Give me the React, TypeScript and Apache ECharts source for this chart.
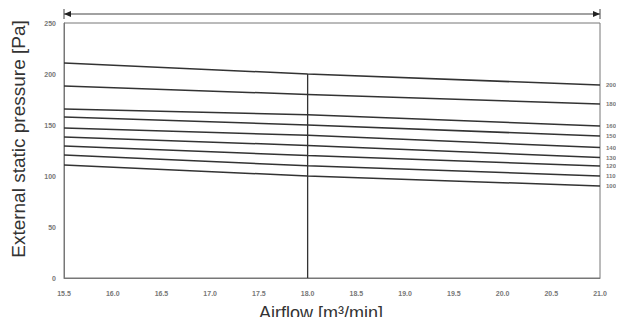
import React, { useEffect, useRef } from "react";
import * as echarts from "echarts";

const airflow = [15.5, 18.0, 21.0];
const curveNames = ["200", "180", "160", "150", "140", "130", "120", "110", "100"];
const curveValues = [
  [210.8, 200, 189.2],
  [188.2, 180, 170.6],
  [165.7, 160, 149],
  [157.8, 150, 139.2],
  [147, 140, 127.9],
  [138.2, 130, 118.1],
  [129.4, 120, 109.8],
  [120.6, 110, 100],
  [110.8, 100, 90.2],
];
const ratedAirflow = 18.0;
const ratedTop = 200;
const xMin = 15.5;
const xMax = 21.0;
const yMax = 250;
const xTitle = "Airflow [m³/min]";
const yTitle = "External static pressure [Pa]";

export default function App() {
  const ref = useRef<HTMLDivElement>(null);
  useEffect(() => {
    const el = ref.current!;
    const chart = echarts.init(el, null, { renderer: "svg" });
    const font = "Liberation Sans, Arial, sans-serif";
    const tickStyle = {
      fontSize: 7,
      color: "#777",
      fontWeight: "bold" as const,
      fontFamily: font,
    };
    const series: any[] = curveValues.map((vals, i) => ({
      type: "line",
      name: curveNames[i],
      data: airflow.map((x, j) => [x, vals[j]]),
      symbol: "none",
      lineStyle: { color: "#333", width: 1.5 },
      endLabel: {
        show: true,
        formatter: curveNames[i],
        fontSize: 6,
        color: "#777",
        fontWeight: "bold",
        distance: 6,
      },
    }));
    series.push({
      type: "line",
      data: [
        [ratedAirflow, 0],
        [ratedAirflow, ratedTop],
      ],
      symbol: "none",
      lineStyle: { color: "#333", width: 1.3 },
    });
    chart.setOption({
      animation: false,
      grid: {
        left: 64,
        right: 24,
        top: 23,
        bottom: 47,
        show: true,
        borderColor: "#777",
        borderWidth: 1,
      },
      xAxis: {
        type: "value",
        min: xMin,
        max: xMax,
        interval: 0.5,
        axisLine: { show: true, lineStyle: { color: "#777" } },
        axisTick: { show: false },
        splitLine: { show: false },
        axisLabel: { ...tickStyle, margin: 12, formatter: (v: number) => v.toFixed(1) },
      },
      yAxis: {
        type: "value",
        min: 0,
        max: yMax,
        interval: 50,
        axisLine: { show: true, lineStyle: { color: "#777" } },
        axisTick: { show: false },
        splitLine: { show: false },
        axisLabel: { ...tickStyle, margin: 8 },
      },
      series,
    });
    const p0 = chart.convertToPixel({ gridIndex: 0 }, [xMin, yMax]) as number[];
    const p1 = chart.convertToPixel({ gridIndex: 0 }, [xMax, yMax]) as number[];
    const ay = p0[1] - 9;
    chart.setOption({
      graphic: [
        {
          type: "line",
          shape: { x1: p0[0], y1: ay, x2: p1[0], y2: ay },
          style: { stroke: "#444", lineWidth: 1.2 },
        },
        {
          type: "polygon",
          shape: { points: [[p0[0], ay], [p0[0] + 7, ay - 3], [p0[0] + 7, ay + 3]] },
          style: { fill: "#222" },
        },
        {
          type: "polygon",
          shape: { points: [[p1[0], ay], [p1[0] - 7, ay - 3], [p1[0] - 7, ay + 3]] },
          style: { fill: "#222" },
        },
        {
          type: "line",
          shape: { x1: p0[0], y1: ay - 5, x2: p0[0], y2: ay + 5 },
          style: { stroke: "#444", lineWidth: 1 },
        },
        {
          type: "line",
          shape: { x1: p1[0], y1: ay - 5, x2: p1[0], y2: ay + 5 },
          style: { stroke: "#444", lineWidth: 1 },
        },
        {
          type: "text",
          x: 321,
          y: 313,
          style: {
            text: xTitle,
            fontSize: 18,
            fontFamily: font,
            fill: "#333",
            align: "center",
            verticalAlign: "middle",
          },
        },
        {
          type: "text",
          x: 18,
          y: 139,
          rotation: Math.PI / 2,
          style: {
            text: yTitle,
            fontSize: 19,
            fontFamily: font,
            fill: "#333",
            align: "center",
            verticalAlign: "middle",
          },
        },
      ],
    });
    return () => chart.dispose();
  }, []);
  return <div ref={ref} style={{ width: 624, height: 325, margin: -8 }} />;
}
